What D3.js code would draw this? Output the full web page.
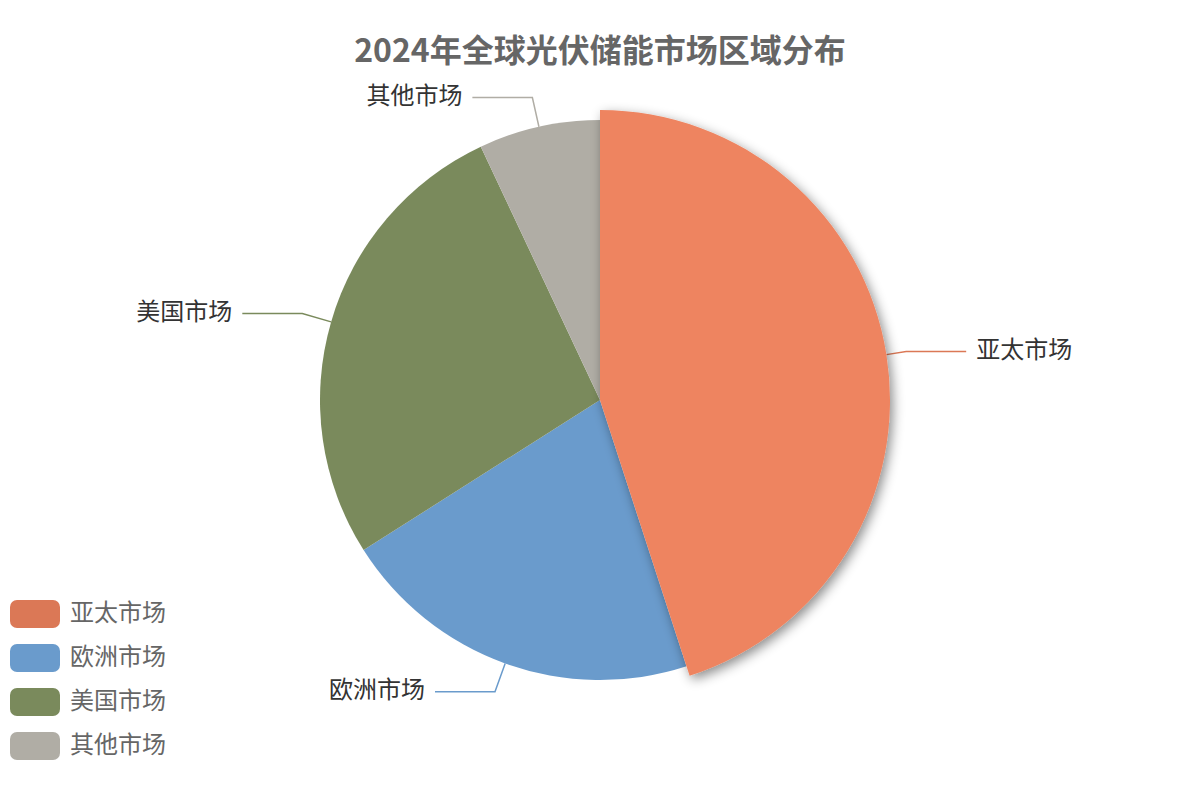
<!DOCTYPE html>
<html>
<head>
<meta charset="utf-8">
<script src="https://cdn.jsdelivr.net/npm/d3@7/dist/d3.min.js"></script>
<style>
  html, body { margin: 0; padding: 0; background: #fff; }
  svg { display: block; font-family: "Noto Sans CJK SC", "Noto Sans", sans-serif; }
</style>
</head>
<body>
<svg id="chart" width="1200" height="800"></svg>
<script>
const titleText = "2024年全球光伏储能市场区域分布";
const categories = ["亚太市场", "欧洲市场", "美国市场", "其他市场"];
const values = [45, 21, 27, 7];
const colors = ["#db7856", "#6a9bcc", "#7a8a5c", "#b0ada5"];
const highlightIndex = 0;
const highlightColor = "#ee8460";

const W = 1200, H = 800;
const cx = 600, cy = 400, R = 280, Rh = 290;
const svg = d3.select("#chart");

const defs = svg.append("defs");
const f = defs.append("filter").attr("id", "shadow")
  .attr("x", "-20%").attr("y", "-20%").attr("width", "140%").attr("height", "140%");
f.append("feDropShadow").attr("dx", 3).attr("dy", 4).attr("stdDeviation", 6)
  .attr("flood-color", "#000").attr("flood-opacity", 0.45);

svg.append("text")
  .attr("x", W / 2).attr("y", 53)
  .attr("text-anchor", "middle").attr("dominant-baseline", "middle")
  .attr("font-size", 32).attr("font-weight", "bold").attr("fill", "#666")
  .text(titleText);

const data = categories.map((c, i) => ({ name: c, value: values[i], color: colors[i], i }));
const pie = d3.pie().sort(null).value(d => d.value).startAngle(0).endAngle(2 * Math.PI);
const arcs = pie(data);

const g = svg.append("g").attr("transform", `translate(${cx},${cy})`);
const arcN = d3.arc().innerRadius(0).outerRadius(R);
const arcH = d3.arc().innerRadius(0).outerRadius(Rh);

const lineLen1 = 30, lineLen2 = 60, textGap = 10;
const lbl = g.append("g");
arcs.forEach(a => {
  const mid = (a.startAngle + a.endAngle) / 2;
  const r0 = a.data.i === highlightIndex ? Rh : R;
  const sx = Math.sin(mid), sy = -Math.cos(mid);
  const p0 = [r0 * sx, r0 * sy];
  const p1 = [(R + lineLen1) * sx, (R + lineLen1) * sy];
  const dir = sx >= 0 ? 1 : -1;
  const p2 = [p1[0] + dir * lineLen2, p1[1]];
  lbl.append("polyline")
    .attr("points", [p0, p1, p2].map(p => p.join(",")).join(" "))
    .attr("fill", "none").attr("stroke", a.data.color).attr("stroke-width", 1.5);
  lbl.append("text")
    .attr("x", p2[0] + dir * textGap).attr("y", p2[1])
    .attr("text-anchor", dir > 0 ? "start" : "end")
    .attr("dominant-baseline", "middle")
    .attr("font-size", 24).attr("fill", "#333")
    .text(a.data.name);
});

const sl = g.append("g");
arcs.filter(a => a.data.i !== highlightIndex).forEach(a => {
  sl.append("path").attr("d", arcN(a)).attr("fill", a.data.color);
});
arcs.filter(a => a.data.i === highlightIndex).forEach(a => {
  sl.append("path").attr("d", arcH(a)).attr("fill", highlightColor).attr("filter", "url(#shadow)");
});

const leg = svg.append("g");
data.forEach((d, i) => {
  const y = 614 + i * 44;
  leg.append("rect")
    .attr("x", 10).attr("y", y - 14).attr("width", 50).attr("height", 28)
    .attr("rx", 7).attr("fill", d.color);
  leg.append("text")
    .attr("x", 70).attr("y", y)
    .attr("dominant-baseline", "middle")
    .attr("font-size", 24).attr("fill", "#666")
    .text(d.name);
});
</script>
</body>
</html>
